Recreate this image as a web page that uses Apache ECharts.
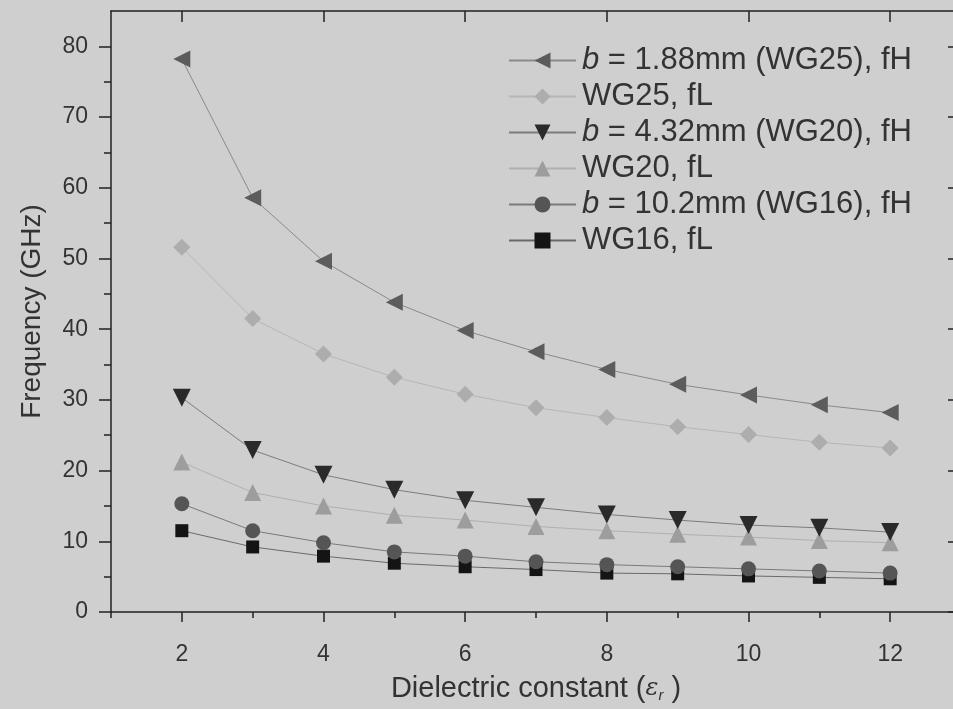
<!DOCTYPE html>
<html>
<head>
<meta charset="utf-8">
<script src="https://cdn.jsdelivr.net/npm/echarts@6/dist/echarts.min.js"></script>
<style>
  html, body { margin: 0; padding: 0; background: #cfcfcf; }
  #chart { width: 953px; height: 709px; }
</style>
</head>
<body>
<div id="chart"></div>
<script>
// Dielectric constant values (x axis)
const epsR = [2, 3, 4, 5, 6, 7, 8, 9, 10, 11, 12];

// Frequencies in GHz
const wg25High = [78.2, 58.6, 49.6, 43.8, 39.8, 36.8, 34.3, 32.2, 30.7, 29.3, 28.2];
const wg25Low  = [51.6, 41.5, 36.5, 33.2, 30.8, 28.9, 27.5, 26.2, 25.1, 24.0, 23.2];
const wg20High = [30.3, 22.9, 19.4, 17.3, 15.8, 14.8, 13.8, 13.0, 12.3, 11.9, 11.3];
const wg20Low  = [21.2, 16.9, 15.0, 13.7, 13.0, 12.1, 11.5, 11.0, 10.6, 10.1, 9.8];
const wg16High = [15.3, 11.5, 9.8, 8.5, 7.9, 7.1, 6.7, 6.4, 6.1, 5.8, 5.5];
const wg16Low  = [11.5, 9.2, 7.9, 6.9, 6.4, 6.0, 5.5, 5.4, 5.1, 4.9, 4.7];

// Series names and tick values
const seriesNames = [
  'b = 1.88mm (WG25), fH',
  'WG25, fL',
  'b = 4.32mm (WG20), fH',
  'WG20, fL',
  'b = 10.2mm (WG16), fH',
  'WG16, fL'
];
const xMajorTicks = [2, 4, 6, 8, 10, 12];
const xMinorTicks = [1, 3, 5, 7, 9, 11, 13];
const yMajorTicks = [0, 10, 20, 30, 40, 50, 60, 70, 80];
const yMinorTicks = [5, 15, 25, 35, 45, 55, 65, 75];

const FONT = '"Liberation Sans", Arial, sans-serif';
const AXIS_COLOR = '#222';
const TEXT_COLOR = '#333';

function pairs(values) {
  return epsR.map((x, i) => [x, values[i]]);
}

function lineSeries(name, values, symbol, rotate, size, color, lineColor, z) {
  return {
    name: name,
    type: 'line',
    data: pairs(values),
    symbol: symbol,
    symbolRotate: rotate,
    symbolSize: size,
    showAllSymbol: true,
    itemStyle: { color: color },
    lineStyle: { color: lineColor, width: 1 },
    z: z,
    emphasis: { disabled: true },
    animation: false
  };
}

const chart = echarts.init(document.getElementById('chart'), null, { renderer: 'canvas' });

const hiddenAxisBits = {
  axisLabel: { show: false },
  splitLine: { show: false }
};

chart.setOption({
  backgroundColor: '#cfcfcf',
  textStyle: { fontFamily: FONT },
  // the frame runs on past the right edge of the page (x = 13 sits just outside)
  grid: { left: 111, top: 11, width: 850, bottom: 97, containLabel: false, outerBoundsMode: 'none' },
  legend: {
    orient: 'vertical',
    left: 503,
    top: 40,
    itemWidth: 67,
    itemHeight: 20,
    itemGap: 5,
    data: seriesNames,
    selectedMode: false,
    textStyle: {
      fontFamily: FONT,
      fontSize: 31,
      lineHeight: 30,
      color: TEXT_COLOR,
      padding: [0, 0, 0, 1],
      rich: {
        i: { fontFamily: FONT, fontSize: 31, fontStyle: 'italic', color: TEXT_COLOR }
      }
    },
    formatter: function (name) {
      return name.indexOf('b = ') === 0 ? '{i|b}' + name.slice(1) : name;
    }
  },
  xAxis: [
    {
      type: 'value', min: 1, max: 13, position: 'bottom',
      name: 'Dielectric constant ({e|ε}{s|r} )',
      nameLocation: 'middle',
      nameGap: 62,
      nameTextStyle: {
        fontFamily: FONT, fontSize: 29, color: TEXT_COLOR,
        rich: {
          e: { fontFamily: '"DejaVu Serif", serif', fontStyle: 'italic', fontSize: 24, color: TEXT_COLOR },
          s: { fontFamily: FONT, fontStyle: 'italic', fontSize: 15, color: TEXT_COLOR, verticalAlign: 'bottom', padding: [13, 0, 0, 0] }
        }
      },
      axisLine: { show: true, onZero: false, lineStyle: { color: AXIS_COLOR, width: 1.5 } },
      axisTick: { show: true, inside: false, length: 10, customValues: xMajorTicks, lineStyle: { color: AXIS_COLOR, width: 1.5 } },
      axisLabel: { customValues: xMajorTicks, margin: 31, fontSize: 23, color: TEXT_COLOR, fontFamily: FONT },
      splitLine: { show: false }
    },
    Object.assign({
      type: 'value', min: 1, max: 13, position: 'bottom',
      axisLine: { show: false },
      axisTick: { show: true, inside: false, length: 6, customValues: xMinorTicks, lineStyle: { color: AXIS_COLOR, width: 1.5 } }
    }, hiddenAxisBits),
    Object.assign({
      type: 'value', min: 1, max: 13, position: 'top',
      axisLine: { show: true, onZero: false, lineStyle: { color: AXIS_COLOR, width: 1.5 } },
      axisTick: { show: true, inside: true, length: 11, customValues: xMajorTicks, lineStyle: { color: AXIS_COLOR, width: 1.5 } }
    }, hiddenAxisBits),
    Object.assign({
      type: 'value', min: 1, max: 13, position: 'top',
      axisLine: { show: false },
      axisTick: { show: true, inside: true, length: 6, customValues: xMinorTicks, lineStyle: { color: AXIS_COLOR, width: 1.5 } }
    }, hiddenAxisBits)
  ],
  yAxis: [
    {
      type: 'value', min: 0, max: 85, position: 'left',
      name: 'Frequency (GHz)',
      nameLocation: 'middle',
      nameRotate: 90,
      nameGap: 65,
      nameTextStyle: { fontFamily: FONT, fontSize: 28, color: TEXT_COLOR },
      axisLine: { show: true, onZero: false, lineStyle: { color: AXIS_COLOR, width: 1.5 } },
      axisTick: { show: true, inside: false, length: 12, customValues: yMajorTicks, lineStyle: { color: AXIS_COLOR, width: 1.5 } },
      axisLabel: { customValues: yMajorTicks, margin: 23, fontSize: 23, color: TEXT_COLOR, fontFamily: FONT },
      splitLine: { show: false }
    },
    Object.assign({
      type: 'value', min: 0, max: 85, position: 'left',
      axisLine: { show: false },
      axisTick: { show: true, inside: false, length: 7, customValues: yMinorTicks, lineStyle: { color: AXIS_COLOR, width: 1.5 } }
    }, hiddenAxisBits),
    Object.assign({
      type: 'value', min: 0, max: 85, position: 'right',
      axisLine: { show: true, onZero: false, lineStyle: { color: AXIS_COLOR, width: 1.5 } },
      axisTick: { show: true, inside: true, length: 13, customValues: yMajorTicks, lineStyle: { color: AXIS_COLOR, width: 1.5 } }
    }, hiddenAxisBits)
  ],
  series: [
    lineSeries(seriesNames[0], wg25High, 'triangle', 90, 17, '#5c5c5c', '#8a8a8a', 3),
    lineSeries(seriesNames[1], wg25Low, 'diamond', 0, 17, '#adadad', '#b6b6b6', 2),
    lineSeries(seriesNames[2], wg20High, 'triangle', 180, 18, '#2a2a2a', '#7c7c7c', 3),
    lineSeries(seriesNames[3], wg20Low, 'triangle', 0, 17, '#9d9d9d', '#b0b0b0', 2),
    lineSeries(seriesNames[4], wg16High, 'circle', 0, 15, '#555555', '#7a7a7a', 3),
    lineSeries(seriesNames[5], wg16Low, 'rect', 0, 13, '#141414', '#6a6a6a', 2)
  ]
});
</script>
</body>
</html>
